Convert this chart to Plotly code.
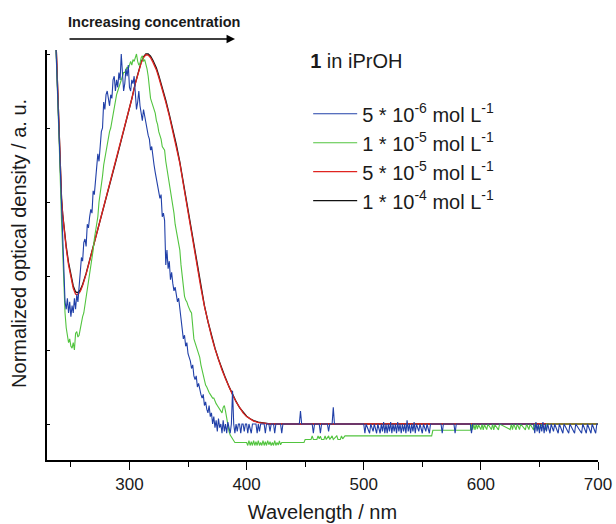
import plotly.graph_objects as go

# ---------------- data ----------------
legend_title = "<b>1</b> in iPrOH"
series_names = ["5 * 10<sup>-6</sup> mol L<sup>-1</sup>",
                "1 * 10<sup>-5</sup> mol L<sup>-1</sup>",
                "5 * 10<sup>-5</sup> mol L<sup>-1</sup>",
                "1 * 10<sup>-4</sup> mol L<sup>-1</sup>"]
x_ticks = [300, 400, 500, 600, 700]
y_ticks = [0, 0.2, 0.4, 0.6, 0.8, 1.0]

red_wl = [236, 238, 240, 241, 242, 243, 244, 246, 248, 250, 252, 254, 256, 258, 260, 263, 266,
          269, 272, 275, 278, 281, 284, 287, 290, 293, 296, 299, 302, 305, 308, 310, 312, 314,
          316, 318, 320, 323, 325, 328, 331, 334, 337, 340, 343, 346, 349, 352, 355, 358, 361,
          364, 367, 370, 373, 376, 379, 382, 385, 388, 391, 394, 397, 400, 403, 406, 410, 415,
          420, 700]
red_val = [1.15, 0.97, 0.77, 0.68, 0.61, 0.565, 0.53, 0.475, 0.43, 0.395, 0.367, 0.351, 0.35,
           0.358, 0.374, 0.405, 0.441, 0.477, 0.514, 0.55, 0.586, 0.623, 0.659, 0.695, 0.732,
           0.768, 0.805, 0.841, 0.879, 0.92, 0.958, 0.976, 0.99, 0.998, 0.997, 0.99, 0.978,
           0.957, 0.937, 0.905, 0.87, 0.833, 0.793, 0.752, 0.705, 0.648, 0.59, 0.535, 0.478,
           0.42, 0.368, 0.318, 0.275, 0.237, 0.203, 0.173, 0.146, 0.122, 0.099, 0.079, 0.06,
           0.043, 0.03, 0.02, 0.013, 0.008, 0.004, 0.001, 0.0, 0.0]

black_wl = [236, 238, 240, 241, 242, 243, 244, 246, 248, 250, 252, 254, 256, 258, 260, 263, 266,
            269, 272, 275, 278, 281, 284, 287, 290, 293, 296, 299, 302, 305, 308, 310, 312, 314,
            316, 318, 320, 323, 325, 328, 331, 334, 337, 340, 343, 346, 349, 352, 355, 358, 361,
            364, 367, 370, 373, 376, 379, 382, 385, 388, 391, 394, 397, 400, 403, 406, 410, 415,
            420, 700]
black_val = [1.15, 0.97, 0.77, 0.68, 0.61, 0.567, 0.534, 0.48, 0.436, 0.401, 0.373, 0.357, 0.355,
             0.362, 0.377, 0.407, 0.442, 0.478, 0.514, 0.55, 0.586, 0.622, 0.658, 0.694, 0.73,
             0.766, 0.803, 0.84, 0.879, 0.921, 0.96, 0.978, 0.992, 1.0, 1.0, 0.994, 0.983,
             0.962, 0.942, 0.91, 0.875, 0.837, 0.797, 0.755, 0.708, 0.651, 0.593, 0.537, 0.48,
             0.422, 0.37, 0.32, 0.277, 0.239, 0.205, 0.175, 0.148, 0.124, 0.101, 0.08, 0.061,
             0.044, 0.031, 0.021, 0.014, 0.009, 0.005, 0.002, 0.0, 0.0]

blue_wl = [236, 238, 240, 242, 243, 244, 245, 246, 247, 248, 249, 250, 251, 252, 253, 254, 255,
           256, 257, 258, 259, 260, 261, 262, 263, 264, 265, 266, 267, 268, 269, 270, 271, 272,
           273, 274, 275, 276, 277, 278, 279, 280, 281, 282, 283, 284, 285, 286, 287, 288, 289,
           290, 291, 292, 293, 294, 295, 296, 297, 298, 299, 300, 301, 302, 303, 304, 305, 306,
           307, 308, 309, 310, 311, 312, 313, 314, 315, 316, 317, 318, 319, 320, 321, 322, 323,
           324, 325, 326, 327, 328, 329, 330, 331, 332, 333, 334, 335, 336, 337, 338, 339, 340,
           341, 342, 343, 344, 345, 346, 347, 348, 349, 350, 351, 352, 353, 354, 355, 356, 357,
           358, 359, 360, 361, 362, 363, 364, 365, 366, 367, 368, 369, 370, 371, 372, 373, 374,
           375, 376, 377, 378, 379, 380, 381, 382, 383, 384, 385, 386, 387, 388, 389, 390, 391,
           392, 393, 394, 395, 396, 397, 398, 399, 400, 401, 402, 404, 405, 408, 409, 410, 411,
           412, 415, 416, 417, 419, 420, 421, 423, 424, 425, 429, 430, 431, 445, 446, 447, 456,
           457, 458, 462, 463, 464, 469, 470, 471, 473, 474, 475, 500, 501, 502, 505, 506, 508,
           509, 511, 512, 514, 515, 516, 517, 518, 519, 520, 521, 522, 523, 524, 525, 526, 527,
           528, 529, 530, 531, 532, 533, 534, 535, 536, 537, 538, 539, 540, 541, 542, 543, 544,
           545, 547, 548, 550, 551, 553, 554, 556, 557, 566, 567, 568, 577, 578, 579, 591, 592,
           593, 645, 646, 647, 648, 649, 650, 651, 652, 653, 654, 655, 656, 657, 659, 660, 662,
           663, 666, 667, 670, 671, 675, 676, 680, 681, 686, 687, 690, 691, 694, 695, 698, 699,
           700]
blue_val = [1.13, 0.96, 0.76, 0.58, 0.49, 0.40, 0.33, 0.31, 0.34, 0.30, 0.33, 0.29, 0.32, 0.30,
            0.34, 0.31, 0.35, 0.33, 0.37, 0.40, 0.45, 0.44, 0.49, 0.50, 0.48, 0.54, 0.53, 0.56,
            0.58, 0.57, 0.63, 0.62, 0.66, 0.70, 0.73, 0.71, 0.76, 0.79, 0.80, 0.87, 0.85, 0.89,
            0.90, 0.88, 0.86, 0.89, 0.88, 0.93, 0.94, 0.90, 0.93, 0.91, 0.95, 0.93, 1.00, 0.95,
            0.90, 0.92, 0.96, 0.94, 0.97, 0.91, 0.90, 0.93, 0.92, 0.94, 0.88, 0.85, 0.87, 0.90,
            0.86, 0.84, 0.82, 0.85, 0.83, 0.82, 0.80, 0.78, 0.77, 0.74, 0.75, 0.72, 0.70, 0.68,
            0.66, 0.65, 0.63, 0.61, 0.62, 0.56, 0.57, 0.55, 0.43, 0.47, 0.42, 0.44, 0.39, 0.41,
            0.38, 0.36, 0.37, 0.35, 0.33, 0.34, 0.31, 0.29, 0.25, 0.23, 0.24, 0.21, 0.22, 0.19,
            0.18, 0.17, 0.15, 0.16, 0.13, 0.12, 0.13, 0.10, 0.11, 0.09, 0.08, 0.07, 0.08, 0.05,
            0.06, 0.04, 0.03, 0.05, 0.02, 0.03, 0.0, 0.02, -0.01, 0.01, -0.02, 0.015, -0.01, 0.0,
            -0.025, 0.01, -0.02, 0.0, -0.025, 0.005, -0.01, -0.025, 0.0, 0.09, 0.0, -0.025, 0.0,
            -0.02, 0.0, 0.0, -0.025, 0.0, 0.0, -0.02, 0.0, 0.0, -0.025, 0.0, -0.025, 0.0, 0.0,
            -0.025, 0.0, -0.02, 0.0, 0.0, -0.025, 0.0, 0.0, -0.02, 0.0, 0.0, -0.025, 0.0, 0.0,
            -0.025, 0.0, 0.0, 0.035, 0.0, 0.0, -0.025, 0.0, 0.0, -0.025, 0.0, 0.0, -0.02, 0.0,
            0.0, 0.045, 0.0, 0.0, -0.025, 0.0, -0.025, 0.0, -0.02, 0.0, -0.025, 0.0, -0.025, 0.0,
            -0.02, 0.005, -0.025, 0.0, -0.025, 0.0, -0.02, 0.005, -0.025, 0.0, -0.02, 0.0,
            -0.025, 0.005, -0.02, 0.0, -0.025, 0.0, -0.02, 0.0, -0.025, 0.01, -0.02, 0.0, -0.025,
            0.0, -0.02, 0.005, -0.025, 0.0, -0.02, 0.0, -0.025, 0.0, -0.02, 0.0, -0.025, 0.0,
            0.0, -0.025, 0.0, 0.0, -0.025, 0.0, 0.0, -0.025, 0.0, 0.0, -0.025, 0.005, -0.02, 0.0,
            -0.025, 0.0, -0.02, 0.005, -0.025, 0.0, -0.02, 0.0, -0.025, 0.0, -0.02, 0.0, -0.025,
            0.0, -0.025, 0.0, -0.025, 0.0, -0.025, 0.0, -0.025, 0.0, -0.025, 0.0, -0.025, 0.0,
            -0.025, 0.0, 0.0]

green_wl = [236, 238, 240, 242, 243, 244, 245, 246, 247, 248, 249, 250, 251, 252, 253, 254, 255,
            256, 257, 258, 259, 260, 261, 262, 263, 264, 265, 266, 267, 268, 269, 270, 271, 272,
            273, 274, 275, 276, 277, 278, 279, 280, 281, 282, 283, 284, 285, 286, 287, 288, 289,
            290, 291, 292, 293, 294, 295, 296, 297, 298, 299, 300, 301, 302, 303, 304, 305, 306,
            307, 308, 309, 310, 311, 312, 313, 314, 315, 316, 317, 318, 319, 320, 321, 322, 323,
            324, 325, 326, 327, 328, 329, 330, 331, 332, 333, 334, 335, 336, 337, 338, 339, 340,
            341, 342, 343, 344, 345, 346, 347, 348, 349, 350, 351, 352, 353, 354, 355, 356, 357,
            358, 359, 360, 361, 362, 363, 364, 365, 366, 367, 368, 369, 370, 371, 372, 373, 374,
            375, 376, 377, 378, 379, 380, 381, 382, 383, 384, 385, 386, 387, 388, 389, 390, 400,
            401, 402, 403, 404, 405, 406, 407, 408, 409, 410, 411, 412, 413, 414, 415, 416, 417,
            418, 419, 420, 421, 422, 423, 424, 425, 426, 427, 428, 429, 430, 449, 450, 455, 456,
            457, 460, 461, 462, 463, 464, 466, 467, 468, 470, 471, 473, 474, 477, 478, 480, 481,
            482, 484, 558, 559, 591, 592, 593, 594, 595, 596, 597, 598, 600, 601, 602, 603, 605,
            606, 609, 610, 611, 612, 615, 616, 625, 626, 627, 628, 630, 631, 633, 634, 638, 639,
            641, 642, 645, 646, 650, 651, 655, 656, 660, 700]
green_val = [1.13, 0.96, 0.76, 0.55, 0.45, 0.36, 0.30, 0.26, 0.235, 0.22, 0.23, 0.21, 0.205, 0.22,
             0.20, 0.245, 0.25, 0.235, 0.24, 0.26, 0.275, 0.29, 0.30, 0.32, 0.35, 0.36, 0.38,
             0.40, 0.43, 0.45, 0.47, 0.50, 0.52, 0.54, 0.56, 0.60, 0.62, 0.65, 0.67, 0.70, 0.72,
             0.74, 0.76, 0.77, 0.79, 0.80, 0.82, 0.84, 0.86, 0.87, 0.89, 0.90, 0.91, 0.92, 0.93,
             0.94, 0.95, 0.95, 0.96, 0.965, 0.96, 0.97, 0.98, 0.97, 0.985, 0.98, 0.99, 1.0, 0.98,
             0.97, 0.975, 0.99, 0.995, 0.98, 0.985, 0.975, 0.96, 0.94, 0.91, 0.88, 0.87, 0.86,
             0.85, 0.84, 0.82, 0.81, 0.79, 0.78, 0.77, 0.75, 0.745, 0.74, 0.71, 0.69, 0.68, 0.65,
             0.63, 0.61, 0.59, 0.57, 0.54, 0.52, 0.50, 0.48, 0.47, 0.43, 0.40, 0.37, 0.345, 0.335,
             0.33, 0.32, 0.31, 0.305, 0.30, 0.27, 0.23, 0.22, 0.21, 0.20, 0.19, 0.18, 0.16, 0.145,
             0.135, 0.12, 0.105, 0.10, 0.09, 0.085, 0.08, 0.075, 0.07, 0.07, 0.06, 0.055, 0.05,
             0.045, 0.04, 0.035, 0.03, 0.045, 0.05, 0.035, 0.015, -0.005, -0.02, -0.03, -0.035,
             -0.04, -0.045, -0.05, -0.05, -0.058, -0.045, -0.058, -0.048, -0.058, -0.045, -0.058,
             -0.048, -0.058, -0.045, -0.058, -0.05, -0.058, -0.045, -0.058, -0.048, -0.058,
             -0.045, -0.056, -0.048, -0.058, -0.05, -0.058, -0.045, -0.058, -0.05, -0.057,
             -0.046, -0.056, -0.05, -0.05, -0.042, -0.042, -0.032, -0.042, -0.042, -0.032, -0.04,
             -0.033, -0.042, -0.042, -0.032, -0.042, -0.032, -0.042, -0.032, -0.042, -0.032,
             -0.042, -0.042, -0.032, -0.04, -0.032, -0.032, -0.017, -0.017, -0.002, -0.015,
             -0.002, -0.016, 0.0, -0.014, -0.002, -0.015, 0.0, -0.016, -0.002, -0.015, 0.0,
             -0.015, 0.0, -0.016, -0.002, -0.016, 0.0, -0.015, 0.0, -0.015, 0.0, -0.016, 0.0,
             -0.015, 0.0, -0.016, 0.0, -0.015, 0.0, -0.016, 0.0, -0.015, 0.0, -0.016, 0.0, 0.0,
             0.0]

colors = {"blue": "#2140a8", "green": "#52c43f", "red": "#e02420", "black": "#111111"}

FONT = "Liberation Sans, Arial, Helvetica, sans-serif"

fig = go.Figure()
# drawing order: black, red, green, blue (blue on top)
fig.add_trace(go.Scatter(x=black_wl, y=black_val, mode="lines", name=series_names[3],
                         line=dict(color=colors["black"], width=1.3)))
fig.add_trace(go.Scatter(x=red_wl, y=red_val, mode="lines", name=series_names[2],
                         line=dict(color=colors["red"], width=1.3)))
fig.add_trace(go.Scatter(x=green_wl, y=green_val, mode="lines", name=series_names[1],
                         line=dict(color=colors["green"], width=1.1)))
fig.add_trace(go.Scatter(x=blue_wl, y=blue_val, mode="lines", name=series_names[0],
                         line=dict(color=colors["blue"], width=1.1)))

fig.update_layout(
    width=616, height=524,
    margin=dict(l=47, r=18, t=50, b=64, autoexpand=False),
    paper_bgcolor="white", plot_bgcolor="white",
    font=dict(family=FONT, color="#1a1a1a", size=17),
    showlegend=True,
    legend=dict(
        x=0.474, y=1.019, xanchor="left", yanchor="top",
        traceorder="reversed",
        bgcolor="rgba(0,0,0,0)",
        font=dict(size=20, family=FONT, color="#1a1a1a"),
        title=dict(text=legend_title + "<br> ", font=dict(size=20, family=FONT)),
        itemwidth=44,
        tracegroupgap=0,
    ),
    xaxis=dict(
        range=[229.6, 700], automargin=False,
        showline=True, linecolor="black", linewidth=1.5, mirror=False,
        showgrid=False, zeroline=False,
        tickmode="array", tickvals=x_ticks, ticktext=[str(v) for v in x_ticks],
        ticks="outside", ticklen=8, tickwidth=1.2, tickcolor="black",
        tickfont=dict(size=17, family=FONT, color="#1a1a1a"),
        minor=dict(ticks="outside", ticklen=5, tickwidth=1.2, tickcolor="black",
                   dtick=50, tick0=250, showgrid=False),
        title=dict(text="Wavelength / nm", font=dict(size=20, family=FONT, color="#1a1a1a"),
                   standoff=12),
    ),
    yaxis=dict(
        range=[-0.0973, 1.0108], automargin=False,
        showline=True, linecolor="black", linewidth=1.5, mirror=False,
        showgrid=False, zeroline=False,
        tickmode="array", tickvals=y_ticks, showticklabels=False,
        ticks="inside", ticklen=3, tickwidth=1, tickcolor="black",
    ),
    annotations=[
        dict(text="Normalized optical density / a. u.", textangle=-90,
             xref="paper", yref="paper", x=-0.0508, y=0.527,
             xanchor="center", yanchor="middle", showarrow=False,
             font=dict(size=20, family=FONT, color="#1a1a1a")),
        dict(text="<b>Increasing concentration</b>",
             xref="paper", yref="paper", x=0.194, y=1.068,
             xanchor="center", yanchor="middle", showarrow=False,
             font=dict(size=14.5, family=FONT, color="#1a1a1a")),
        dict(text="", xref="paper", yref="paper", x=0.3412, y=1.0268,
             ax=-167, ay=0, axref="pixel", ayref="pixel",
             showarrow=True, arrowhead=2, arrowsize=1.3, arrowwidth=1.3,
             arrowcolor="black"),
    ],
)

fig.write_html("out.html",
               config={"displayModeBar": False},
               post_script="document.body.style.margin='0px';document.body.style.overflow='hidden';")
